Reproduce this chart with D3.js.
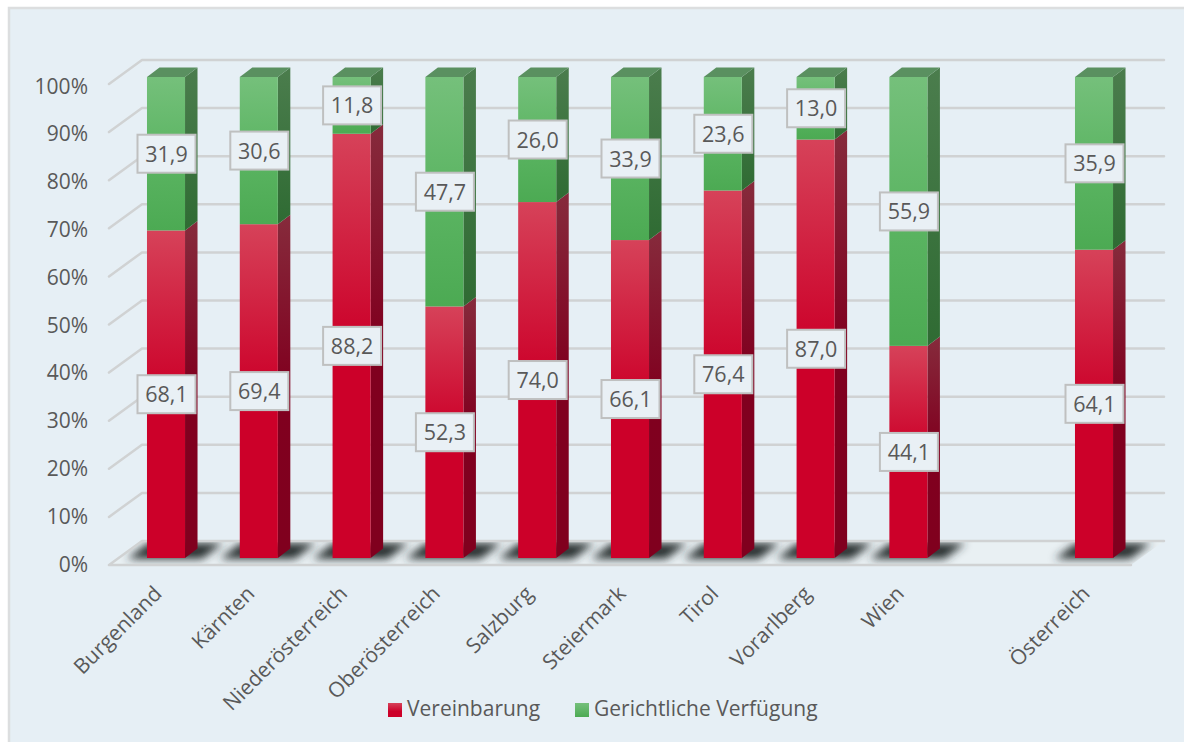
<!DOCTYPE html>
<html>
<head>
<meta charset="utf-8">
<script src="https://cdn.jsdelivr.net/npm/d3@7"></script>
<style>
  html, body { margin: 0; padding: 0; background: #fff; overflow: hidden; }
  text { font-family: "Open Sans", sans-serif; fill: #595959; }
</style>
</head>
<body>
<div id="chart"></div>
<script>
var categories = ["Burgenland", "Kärnten", "Niederösterreich", "Oberösterreich", "Salzburg", "Steiermark", "Tirol", "Vorarlberg", "Wien", "", "Österreich"];
var vereinbarung = [68.1, 69.4, 88.2, 52.3, 74.0, 66.1, 76.4, 87.0, 44.1, null, 64.1];
var verfuegung = [31.9, 30.6, 11.8, 47.7, 26.0, 33.9, 23.6, 13.0, 55.9, null, 35.9];
var yTicks = [0, 10, 20, 30, 40, 50, 60, 70, 80, 90, 100];
var seriesNames = ["Vereinbarung", "Gerichtliche Verfügung"];

var w = 1184, h = 742;
var depthX = 12.5, depthY = 9.5;   // bar depth
var wallX = 33, wallY = 24;        // floor / wall depth

var svg = d3.select("#chart").append("svg").attr("width", w).attr("height", h);
var defs = svg.append("defs");

function gradient(id, stops) {
  var g = defs.append("linearGradient").attr("id", id)
    .attr("x1", 0).attr("y1", 0).attr("x2", 0).attr("y2", 1);
  stops.forEach(function(s) {
    g.append("stop").attr("offset", s[0]).attr("stop-color", s[1]);
  });
}
gradient("redFront", [[0, "#d64259"], [0.5, "#cc0029"], [1, "#cc0029"]]);
gradient("redSide", [[0, "#862b3c"], [0.5, "#80001f"], [1, "#80001e"]]);
gradient("greenFront", [[0, "#75c07b"], [0.5, "#5cb563"], [1, "#4caa53"]]);
gradient("greenSide", [[0, "#4b7d4d"], [1, "#2f6b33"]]);
gradient("legendRed", [[0, "#d64259"], [0.6, "#cc0029"], [1, "#cc0029"]]);
gradient("legendGreen", [[0, "#75c07b"], [1, "#4caa53"]]);

defs.append("filter").attr("id", "blur")
  .attr("x", "-40%").attr("y", "-100%").attr("width", "180%").attr("height", "300%")
  .append("feGaussianBlur").attr("stdDeviation", 4.5);

svg.append("rect").attr("x", 9).attr("y", 8).attr("width", w).attr("height", h)
  .attr("fill", "#e6eff5").attr("stroke", "#dcdedf").attr("stroke-width", 2.5);

var x = d3.scaleBand().domain(categories).range([119.6, 1140.4]).paddingInner(0.59).paddingOuter(0.295);
var y = d3.scaleLinear().domain([0, 100]).range([558, 77]);
// wall lines sit on their own scale: front edge of the floor
var yWall = d3.scaleLinear().domain([0, 100]).range([565, 84]);
// tick labels run a little tighter than the gridlines
var yLabel = d3.scaleLinear().domain([0, 100]).range([571.5, 93.5]);
var frontLeft = 109, frontRight = 1131;

var gridColor = "#d0d2d3";

// floor
svg.append("polygon")
  .attr("points", [[frontLeft, yWall(0)], [frontLeft + wallX, yWall(0) - wallY], [frontRight + wallX, yWall(0) - wallY], [frontRight, yWall(0)]].join(" "))
  .attr("fill", "#e9f0f3");

// shadows, kept on the floor
defs.append("clipPath").attr("id", "floorClip").append("polygon")
  .attr("points", [[frontLeft, yWall(0)], [frontLeft + wallX, yWall(0) - wallY], [frontRight + wallX, yWall(0) - wallY], [frontRight, yWall(0)]].join(" "));

svg.append("g").attr("clip-path", "url(#floorClip)")
  .selectAll("polygon")
  .data(categories.filter(function(d) { return d !== ""; }))
  .enter().append("polygon")
  .attr("filter", "url(#blur)")
  .attr("fill", "#2b3033")
  .attr("points", function(d) {
    var l = x(d), b = y(0);
    return [[l - 20, b + 1], [l + 1, b - 15], [l + 76, b - 15], [l + 55, b + 1]].join(" ");
  });

// gridlines with the wall segment on the left
yTicks.forEach(function(t) {
  var pts = t === 0
    ? [[frontRight + wallX, yWall(0) - wallY], [frontLeft + wallX, yWall(0) - wallY], [frontLeft, yWall(0)], [frontRight, yWall(0)]]
    : [[frontRight + wallX, yWall(t) - wallY], [frontLeft + wallX, yWall(t) - wallY], [frontLeft, yWall(t)]];
  svg.append("polyline")
    .attr("points", pts.join(" "))
    .attr("fill", "none")
    .attr("stroke", gridColor)
    .attr("stroke-width", 2.5)
    .attr("stroke-linejoin", "round")
    .attr("stroke-linecap", "round");
});

// y labels
svg.append("g").selectAll("text").data(yTicks).enter().append("text")
  .attr("x", 88)
  .attr("y", function(d) { return yLabel(d); })
  .attr("text-anchor", "end")
  .style("font-size", "21px")
  .text(function(d) { return d + "%"; });

// bars
var rows = categories.map(function(c, i) {
  return { cat: c, a: vereinbarung[i], b: verfuegung[i] };
}).filter(function(d) { return d.a !== null; });

var bars = svg.append("g").selectAll("g").data(rows).enter().append("g");

function segment(g, from, to, front, side) {
  var l = function(d) { return x(d.cat); };
  var bw = x.bandwidth();
  g.append("polygon")
    .attr("fill", "url(#" + side + ")")
    .attr("points", function(d) {
      var r = l(d) + bw, y0 = y(from(d)), y1 = y(to(d));
      return [[r, y0], [r + depthX, y0 - depthY], [r + depthX, y1 - depthY], [r, y1]].join(" ");
    });
  g.append("rect")
    .attr("x", l)
    .attr("y", function(d) { return y(to(d)); })
    .attr("width", bw)
    .attr("height", function(d) { return y(from(d)) - y(to(d)); })
    .attr("fill", "url(#" + front + ")");
}

segment(bars, function() { return 0; }, function(d) { return d.a; }, "redFront", "redSide");
segment(bars, function(d) { return d.a; }, function(d) { return d.a + d.b; }, "greenFront", "greenSide");

bars.append("polygon")
  .attr("fill", "#5a9060")
  .attr("points", function(d) {
    var l = x(d.cat), r = l + x.bandwidth(), t = y(d.a + d.b);
    return [[l, t], [l + depthX, t - depthY], [r + depthX, t - depthY], [r, t]].join(" ");
  });

// value boxes
function valueLabel(g, from, to, key) {
  var cx = function(d) { return x(d.cat) + x.bandwidth() / 2 + 0.5; };
  var cy = function(d) { return (y(from(d)) + y(to(d))) / 2; };
  g.append("rect")
    .attr("x", function(d) { return cx(d) - 29; })
    .attr("y", function(d) { return cy(d) - 19; })
    .attr("width", 58).attr("height", 38)
    .attr("fill", "#e9f0f5").attr("stroke", "#bfc0c0").attr("stroke-width", 2);
  g.append("text")
    .attr("x", cx)
    .attr("y", function(d) { return cy(d) + 8; })
    .attr("text-anchor", "middle")
    .style("font-size", "21.5px")
    .text(function(d) { return d[key].toFixed(1).replace(".", ","); });
}
valueLabel(bars, function() { return 0; }, function(d) { return d.a; }, "a");
valueLabel(bars, function(d) { return d.a; }, function(d) { return d.a + d.b; }, "b");

// category labels
svg.append("g").selectAll("text").data(rows).enter().append("text")
  .attr("text-anchor", "end")
  .attr("transform", function(d) {
    return "translate(" + (x(d.cat) + x.bandwidth() / 2 - 3) + ",595) rotate(-45)";
  })
  .style("font-size", "21px")
  .text(function(d) { return d.cat; });

// legend
var legendX = [388, 575];
var legendFill = ["url(#legendRed)", "url(#legendGreen)"];
var legend = svg.append("g").selectAll("g").data(seriesNames).enter().append("g")
  .attr("transform", function(d, i) { return "translate(" + legendX[i] + ",703)"; });
legend.append("rect").attr("width", 14).attr("height", 14)
  .attr("fill", function(d, i) { return legendFill[i]; });
legend.append("text").attr("x", 19).attr("y", 13)
  .style("font-size", "21px")
  .text(function(d) { return d; });
</script>
</body>
</html>
